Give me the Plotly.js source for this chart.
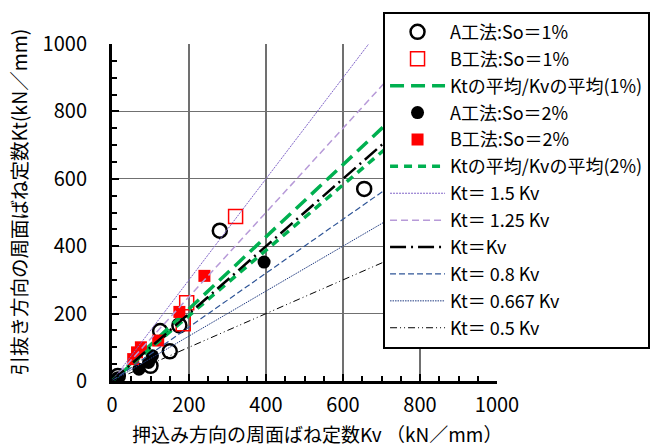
<!DOCTYPE html>
<html>
<head>
<meta charset="utf-8">
<script src="https://cdn.plot.ly/plotly-3.0.1.min.js"></script>
<style>html,body{margin:0;padding:0;background:#fff;}#chart{width:672px;height:447px;}</style>
</head>
<body>
<div id="chart"></div>
<script>
// Data (Kv, Kt in kN/mm)
const a1Kv = [15, 100, 125, 150, 175, 280, 655];
const a1Kt = [15, 45, 148, 88, 165, 446, 570];
const b1Kv = [185, 194, 321];
const b1Kt = [170, 232, 488];
const a2Kv = [15, 70, 95, 105, 395];
const a2Kt = [10, 35, 55, 75, 353];
const b2Kv = [55, 65, 75, 120, 175, 240];
const b2Kt = [65, 85, 100, 120, 205, 312];
const avgRatios = [1.07, 0.97];            // Kt average / Kv average (1%, 2%)
const refRatios = [1.5, 1.25, 1.0, 0.8, 0.667, 0.5];
const refNames = ['Kt＝ 1.5 Kv', 'Kt＝ 1.25 Kv', 'Kt＝Kv', 'Kt＝ 0.8 Kv', 'Kt＝ 0.667 Kv', 'Kt＝ 0.5 Kv'];
const lineX = [0, 1000];
const names = ['A工法:So＝1%', 'B工法:So＝1%', 'Ktの平均/Kvの平均(1%)', 'A工法:So＝2%', 'B工法:So＝2%', 'Ktの平均/Kvの平均(2%)'];
const xTitle = '押込み方向の周面ばね定数Kv （kN／mm）';
const yTitle = '引抜き方向の周面ばね定数Kt(kN／mm)';

const FONT = '"Noto Sans CJK JP", "Noto Sans", sans-serif';
const lineY = r => lineX.map(x => x * r);

const refStyles = [
  {color: '#8064c8', width: 1, dash: '2px,1px'},
  {color: '#b79ad8', width: 1.5, dash: '7px,4px'},
  {color: '#000000', width: 2.5, dash: '16px,5px,2px,5px'},
  {color: '#2f5597', width: 1.2, dash: '6px,3px'},
  {color: '#1f3a80', width: 1, dash: '1.5px,1px'},
  {color: '#000000', width: 1, dash: '7px,3px,1px,3px,1px,3px'}
];

const traces = [
  {x: a1Kv, y: a1Kt, name: names[0], mode: 'markers', type: 'scatter',
   marker: {symbol: 'circle-open', size: 14, color: '#000', line: {width: 2.5, color: '#000'}}},
  {x: b1Kv, y: b1Kt, name: names[1], mode: 'markers', type: 'scatter',
   marker: {symbol: 'square-open', size: 14, color: '#ff0000', line: {width: 1.5, color: '#ff0000'}}},
  {x: lineX, y: lineY(avgRatios[0]), name: names[2], mode: 'lines', type: 'scatter',
   line: {color: '#00b050', width: 3.5, dash: '14px,7px'}},
  {x: a2Kv, y: a2Kt, name: names[3], mode: 'markers', type: 'scatter',
   marker: {symbol: 'circle', size: 13, color: '#000'}},
  {x: b2Kv, y: b2Kt, name: names[4], mode: 'markers', type: 'scatter',
   marker: {symbol: 'square', size: 12, color: '#ff0000'}},
  {x: lineX, y: lineY(avgRatios[1]), name: names[5], mode: 'lines', type: 'scatter',
   line: {color: '#00b050', width: 3.5, dash: '8px,6px'}}
];
refRatios.forEach((r, i) => {
  traces.push({x: lineX, y: lineY(r), name: refNames[i], mode: 'lines', type: 'scatter', line: refStyles[i]});
});
traces.forEach((t, i) => { t.legendgroup = 'g' + i; });

const axisCommon = {
  range: [0, 1000], dtick: 200, tick0: 0,
  showline: true, linewidth: 3, linecolor: '#000',
  ticks: 'inside', ticklen: 7, tickwidth: 2, tickcolor: '#000',
  showgrid: true, gridcolor: '#707070', gridwidth: 1.3,
  zeroline: false,
  minor: {dtick: 50, ticks: 'inside', ticklen: 5, tickwidth: 2, tickcolor: '#000', showgrid: false},
  tickfont: {family: FONT, size: 20, color: '#000'},
  fixedrange: true, automargin: false
};

const layout = {
  width: 672, height: 447,
  margin: {l: 112, r: 175, t: 36, b: 66, pad: 0},
  paper_bgcolor: '#fff', plot_bgcolor: '#fff',
  font: {family: FONT, color: '#000'},
  xaxis: Object.assign({}, axisCommon, {ticklabelstandoff: 4}),
  yaxis: Object.assign({}, axisCommon, {ticklabelstandoff: 18}),
  annotations: [
    {text: xTitle, xref: 'paper', yref: 'paper', x: 0.532, y: -0.157, xanchor: 'center', yanchor: 'middle',
     showarrow: false, font: {family: FONT, size: 19, color: '#000'}},
    {text: yTitle, xref: 'paper', yref: 'paper', x: -0.244, y: 0.53, xanchor: 'center', yanchor: 'middle',
     textangle: -90, showarrow: false, font: {family: FONT, size: 19.5, color: '#000'}}
  ],
  showlegend: true,
  legend: {
    x: 0.704, y: 1.096, xanchor: 'left', yanchor: 'top',
    bgcolor: '#fff', bordercolor: '#000', borderwidth: 2,
    font: {family: FONT, size: 18, color: '#000'},
    itemwidth: 55, tracegroupgap: 0.5, maxheight: 440
  }
};

Plotly.newPlot('chart', traces, layout, {displayModeBar: false, staticPlot: true});
</script>
</body>
</html>
